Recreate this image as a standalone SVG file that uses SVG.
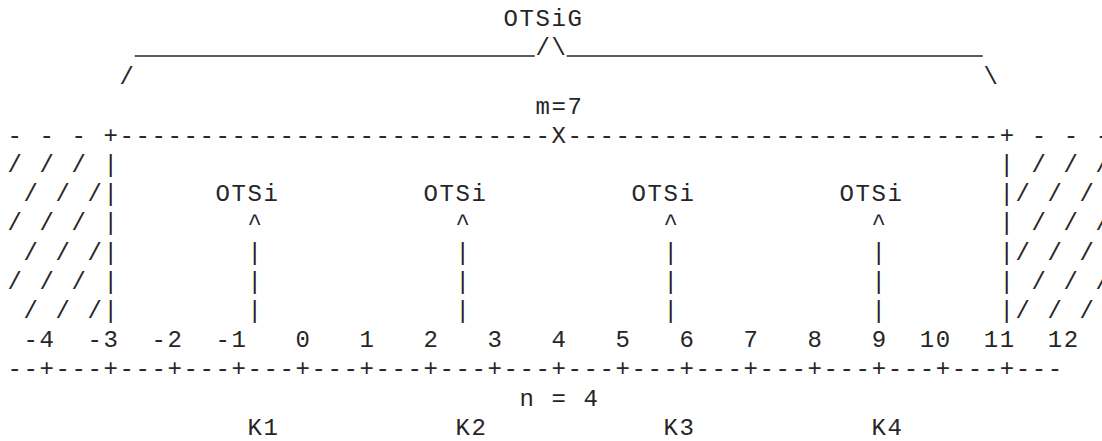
<svg xmlns="http://www.w3.org/2000/svg" width="1102" height="441" viewBox="0 0 1102 441" xml:space="preserve">
<style>
text { font-family: "Liberation Mono", "DejaVu Sans Mono", monospace; font-size: 24px; letter-spacing: 1.6px; fill: #262626; white-space: pre; }
.rule { stroke: #262626; stroke-width: 1.6; }
</style>
<rect x="0" y="0" width="1102" height="441" fill="#ffffff"/>
<g id="otsig">
<text x="503.5" y="26">OTSiG</text>
<line class="rule" x1="134.7" y1="56" x2="534.7" y2="56"/>
<text x="535.5" y="55.2">/\</text>
<line class="rule" x1="566.7" y1="56" x2="982.7" y2="56"/>
<text x="119.5" y="84.4">/</text>
<text x="983.5" y="84.4">\</text>
</g>
<g id="m7">
<text x="535.5" y="113.6">m=7</text>
</g>
<g id="frame">
<text x="7.5" y="142.8">- - - +---------------------------X---------------------------+ - - -</text>
<text x="7.5" y="172">/ / / |</text>
<text x="999.5" y="172">| / / /</text>
<text x="23.5" y="201.2">/ / /|</text>
<text x="999.5" y="201.2">|/ / /</text>
<text x="7.5" y="230.4">/ / / |</text>
<text x="999.5" y="230.4">| / / /</text>
<text x="23.5" y="259.6">/ / /|</text>
<text x="999.5" y="259.6">|/ / /</text>
<text x="7.5" y="288.8">/ / / |</text>
<text x="999.5" y="288.8">| / / /</text>
<text x="23.5" y="318">/ / /|</text>
<text x="999.5" y="318">|/ / /</text>
</g>
<g id="otsi-1"><text x="215.5" y="201.2">OTSi</text></g>
<g id="otsi-2"><text x="423.5" y="201.2">OTSi</text></g>
<g id="otsi-3"><text x="631.5" y="201.2">OTSi</text></g>
<g id="otsi-4"><text x="839.5" y="201.2">OTSi</text></g>
<g id="connectors">
<text x="247.5" y="230.4">^</text>
<text x="247.5" y="259.6">|</text>
<text x="247.5" y="288.8">|</text>
<text x="247.5" y="318">|</text>
<text x="455.5" y="230.4">^</text>
<text x="455.5" y="259.6">|</text>
<text x="455.5" y="288.8">|</text>
<text x="455.5" y="318">|</text>
<text x="663.5" y="230.4">^</text>
<text x="663.5" y="259.6">|</text>
<text x="663.5" y="288.8">|</text>
<text x="663.5" y="318">|</text>
<text x="871.5" y="230.4">^</text>
<text x="871.5" y="259.6">|</text>
<text x="871.5" y="288.8">|</text>
<text x="871.5" y="318">|</text>
</g>
<g id="axis">
<text x="7.5" y="347.2"> -4  -3  -2  -1   0   1   2   3   4   5   6   7   8   9  10  11  12</text>
<text x="7.5" y="376.4">--+---+---+---+---+---+---+---+---+---+---+---+---+---+---+---+---</text>
<text x="519.5" y="405.6">n = 4</text>
</g>
<g id="k-labels">
<text x="247.5" y="434.8">K1</text>
<text x="455.5" y="434.8">K2</text>
<text x="663.5" y="434.8">K3</text>
<text x="871.5" y="434.8">K4</text>
</g>
</svg>
